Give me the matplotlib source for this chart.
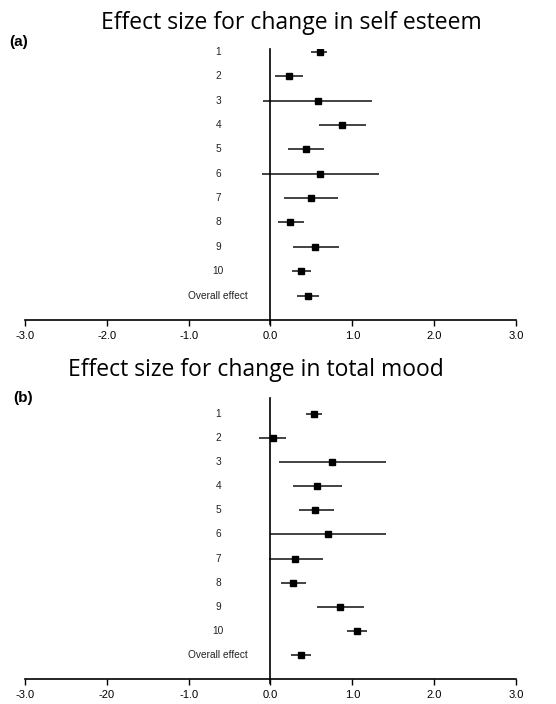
import matplotlib.pyplot as plt
import numpy as np

# 数据
labels = ['1', '2', '3', '4', '5', '6', '7', '8', '9', '10', 'Overall effect']

es_a = [0.60, 0.23, 0.58, 0.87, 0.43, 0.60, 0.49, 0.24, 0.55, 0.37, 0.46]
lo_a = [0.50, 0.06, -0.09, 0.59, 0.22, -0.10, 0.16, 0.09, 0.28, 0.26, 0.33]
hi_a = [0.69, 0.40, 1.24, 1.17, 0.65, 1.32, 0.83, 0.41, 0.84, 0.50, 0.59]

es_b = [0.53, 0.03, 0.75, 0.57, 0.55, 0.70, 0.30, 0.27, 0.85, 1.06, 0.37]
lo_b = [0.44, -0.14, 0.10, 0.27, 0.35, 0.00, -0.02, 0.13, 0.57, 0.94, 0.25]
hi_b = [0.63, 0.19, 1.41, 0.88, 0.78, 1.41, 0.64, 0.44, 1.14, 1.18, 0.50]

xticks = [-3, -2, -1, 0, 1, 2, 3]
xticklabels_a = ['-3.0', '-2.0', '-1.0', '0.0', '1.0', '2.0', '3.0']
xticklabels_b = ['-3.0', '-20', '-1.0', '0.0', '1.0', '2.0', '3.0']

fig = plt.figure(figsize=(5.56, 7.04), dpi=100)


def forest(ax, es, lo, hi, ticklabels, ytop):
    y = np.arange(1, len(es) + 1)
    ax.hlines(y, lo, hi, color='#222222', lw=1.2)
    ax.plot(es, y, 's', color='black', markersize=5)
    ax.axvline(0, color='black', lw=1.2, ymin=-0.015, clip_on=False)
    for yi, lab in zip(y, labels):
        ax.text(-0.64, yi, lab, ha='center', va='center', fontsize=7.3,
                family='Liberation Sans', color='#222222')
    ax.set_xlim(-3, 3)
    ax.set_ylim(12, ytop)
    for s in ['top', 'left', 'right']:
        ax.spines[s].set_visible(False)
    ax.spines['bottom'].set_linewidth(1.2)
    ax.set_yticks([])
    ax.set_xticks(xticks)
    ax.set_xticklabels(ticklabels, family='Liberation Sans', fontsize=8)
    ax.tick_params(axis='x', direction='out', length=4, width=1.0, pad=4)


ax1 = fig.add_axes([0.045, 0.5455, 0.883, 0.385])
forest(ax1, es_a, lo_a, hi_a, xticklabels_a, 0.88)
ax2 = fig.add_axes([0.045, 0.0355, 0.883, 0.399])
forest(ax2, es_b, lo_b, hi_b, xticklabels_b, 0.34)

fig.text(0.524, 0.968, 'Effect size for change in self esteem', ha='center', va='center',
         family='Open Sans', fontsize=16.5)
fig.text(0.461, 0.474, 'Effect size for change in total mood', ha='center', va='center',
         family='Open Sans', fontsize=16.5)
fig.text(0.016, 0.94, '(a)', ha='left', va='center', family='Liberation Sans',
         fontweight='bold', fontsize=11)
fig.text(0.024, 0.434, '(b)', ha='left', va='center', family='Liberation Sans',
         fontweight='bold', fontsize=11)

fig.savefig('out.png', dpi=100)
